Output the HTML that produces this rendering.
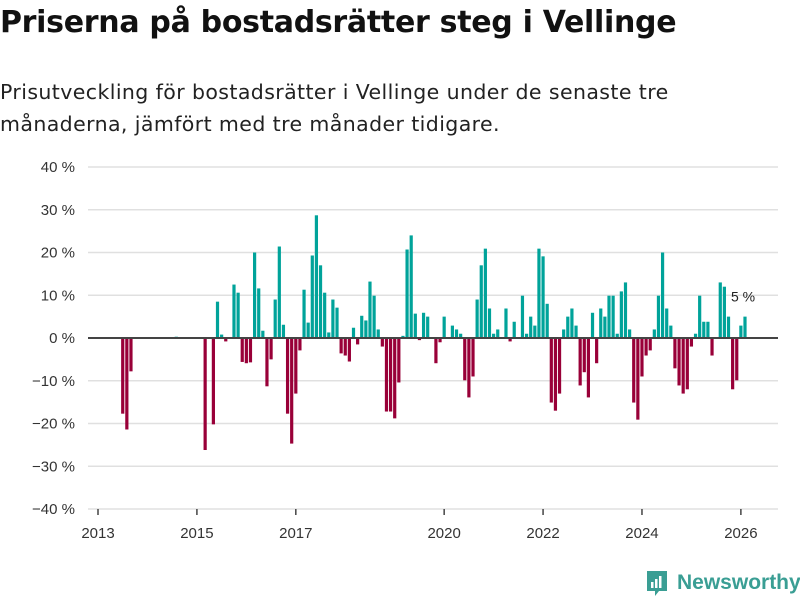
<!DOCTYPE html>
<html><head><meta charset="utf-8">
<style>
body{margin:0;background:#fff;width:800px;height:600px;overflow:hidden;font-family:"Liberation Sans","DejaVu Sans",sans-serif;}
#title{position:absolute;left:0;top:5px;font-family:"DejaVu Sans",sans-serif;font-size:30px;font-weight:bold;color:#111;margin:0;letter-spacing:-0.3px;white-space:nowrap}
#sub{position:absolute;left:0;top:76px;font-family:"DejaVu Sans",sans-serif;font-size:20.5px;letter-spacing:0.4px;line-height:32px;color:#222;width:690px}
svg{position:absolute;left:0;top:0}
#logo{position:absolute;left:645px;top:569px;display:flex;align-items:center;color:#3a9e94;font-size:21px;font-weight:bold}
</style></head><body>
<h1 id="title">Priserna på bostadsrätter steg i Vellinge</h1>
<div id="sub">Prisutveckling för bostadsrätter i Vellinge under de senaste tre månaderna, jämfört med tre månader tidigare.</div>
<svg id="chart" width="800" height="600"></svg>
<div id="logo">
<svg width="24" height="28" viewBox="0 0 24 28" style="position:static;margin-right:8px"><path d="M2 2h20v20h-8l-4 5v-5H2z" fill="#3a9e94"/><rect x="6" y="13" width="2.5" height="6" fill="#fff"/><rect x="10" y="10" width="2.5" height="9" fill="#fff"/><rect x="14" y="7" width="2.5" height="12" fill="#fff"/></svg>
<span>Newsworthy</span></div>
<script>
const values = [0,0,0,0,0,0,-17.7,-21.4,-7.8,0,0,0,0,0,0,0,0,0,0,0.3,0,0,0,0,0,0,-26.2,0,-20.2,8.5,0.8,-0.8,0,12.5,10.6,-5.6,-5.9,-5.7,20,11.6,1.7,-11.3,-5,9,21.4,3.1,-17.7,-24.7,-13,-2.9,11.3,3.6,19.3,28.7,17,10.6,1.3,9,7.1,-3.6,-4.1,-5.5,2.4,-1.5,5.2,4.1,13.2,9.9,2,-2,-17.2,-17.2,-18.8,-10.4,0.5,20.7,24,5.7,-0.5,5.9,5,0,-5.9,-1,5,0,2.9,2,1,-9.9,-13.9,-9,9,17,20.9,6.9,1,2,0,6.9,-0.8,3.8,0,9.9,1,5,2.9,20.9,19.1,8,-15.1,-17,-13,2,5,6.9,2.9,-11.1,-8,-13.9,5.9,-5.9,6.9,5,9.9,9.9,1,10.9,13,2,-15.1,-19.1,-9,-4.1,-2.9,2,9.9,20,6.9,2.9,-7.1,-11.1,-13,-12,-2,1,9.9,3.8,3.8,-4.1,0,13,12,5,-12,-9.9,2.9,5];
const yTicks = [40,30,20,10,0,-10,-20,-30,-40];
const yTickLabels = ["40 %","30 %","20 %","10 %","0 %","−10 %","−20 %","−30 %","−40 %"];
const xYears = [2013,2015,2017,2020,2022,2024,2026];
const startYear = 2013;
const NS='http://www.w3.org/2000/svg';
const svg=document.getElementById('chart');
const y=v=>338-v*4.275;
const x=m=>98+m*4.121;
function mk(t,a){const e=document.createElementNS(NS,t);for(const k in a)e.setAttribute(k,a[k]);svg.appendChild(e);return e;}
yTicks.forEach((t,i)=>{
  if(t!==0){const g=mk('line',{x1:88,x2:778,y1:y(t),y2:y(t),stroke:'#e0e0e0','stroke-width':1.5});
  
  }
  const l=mk('text',{x:75,y:y(t)+5,'text-anchor':'end','font-size':15,fill:'#333'});
  l.textContent=yTickLabels[i];
  
  
});
xYears.forEach(yr=>{
  const m=(yr-startYear)*12;
  const tk=mk('line',{x1:x(m),x2:x(m),y1:509,y2:515,stroke:'#444','stroke-width':1.5});
  
  
  const l=mk('text',{x:x(m),y:538,'text-anchor':'middle','font-size':15,fill:'#333'});
  l.textContent=yr;
  
  
});
values.forEach((v,m)=>{
  if(v===0)return;
  const top=Math.min(y(v),y(0)),h=Math.abs(y(v)-y(0));
  const r=mk('rect',{x:x(m)-1.6,y:top,width:3.2,height:h,fill:v>0?'#00a39a':'#990038'});
  
  
});
const z=mk('line',{x1:88,x2:778,y1:y(0),y2:y(0),stroke:'#444','stroke-width':2});


const lastM=values.length-1;
const ann=mk('text',{x:x(lastM)-14,y:y(10)+6,'font-size':14,fill:'#222'});
ann.textContent=Math.round(values[lastM])+' %';


</script>
</body></html>
